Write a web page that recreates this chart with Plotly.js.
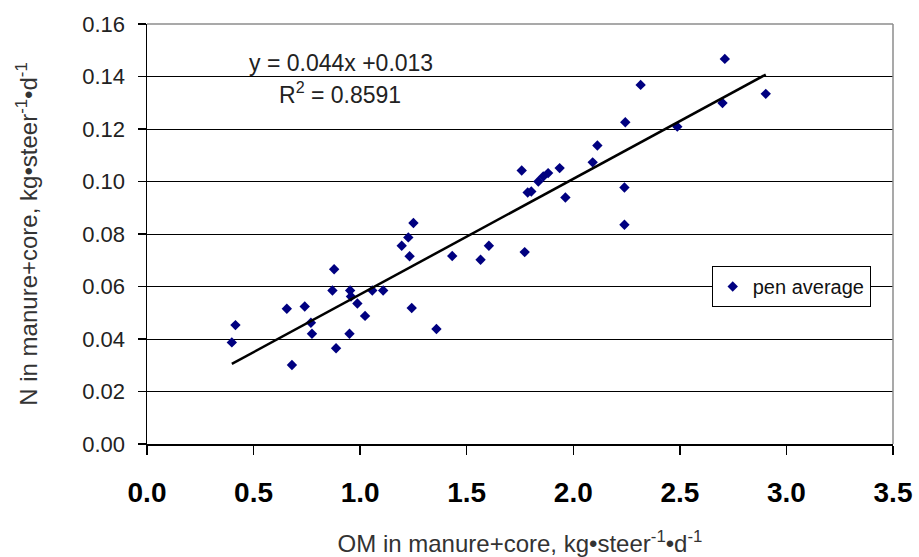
<!DOCTYPE html>
<html><head><meta charset="utf-8">
<script src="https://cdn.plot.ly/plotly-3.0.1.min.js"></script>
<style>html,body{margin:0;padding:0;background:#fff}#chart{width:919px;height:557px}</style>
</head><body><div id="chart"></div>
<script>
// OM in manure+core (kg/steer/d) for each pen average
const omValues = [0.398, 0.415, 0.656, 0.680, 0.740, 0.769, 0.774, 0.870, 0.878, 0.887,
  0.950, 0.953, 0.957, 0.987, 1.023, 1.057, 1.108, 1.195, 1.226, 1.232,
  1.250, 1.242, 1.358, 1.432, 1.565, 1.604, 1.772, 1.758, 1.786, 1.803,
  1.836, 1.859, 1.882, 1.936, 1.963, 2.091, 2.113, 2.244, 2.240, 2.240,
  2.316, 2.488, 2.711, 2.700, 2.903];
// N in manure+core (kg/steer/d)
const nValues = [0.0387, 0.0453, 0.0515, 0.0301, 0.0524, 0.0462, 0.0420, 0.0585, 0.0666, 0.0365,
  0.0420, 0.0585, 0.0562, 0.0535, 0.0488, 0.0585, 0.0585, 0.0755, 0.0787, 0.0715,
  0.0842, 0.0518, 0.0438, 0.0716, 0.0702, 0.0755, 0.0731, 0.1042, 0.0958, 0.0962,
  0.1000, 0.1019, 0.1032, 0.1051, 0.0939, 0.1073, 0.1137, 0.1226, 0.0977, 0.0835,
  0.1368, 0.1209, 0.1467, 0.1299, 0.1334];

const trendSlope = 0.044;
const trendIntercept = 0.013;
const rSquared = '0.8591';
const seriesName = 'pen average';

const xTickValues = [0, 0.5, 1.0, 1.5, 2.0, 2.5, 3.0, 3.5];
const xTickLabels = ['0.0', '0.5', '1.0', '1.5', '2.0', '2.5', '3.0', '3.5'];
const yTickValues = [0, 0.02, 0.04, 0.06, 0.08, 0.10, 0.12, 0.14, 0.16];
const yTickLabels = ['0.00', '0.02', '0.04', '0.06', '0.08', '0.10', '0.12', '0.14', '0.16'];

const xMin = Math.min(...omValues), xMax = Math.max(...omValues);
const trendX = [xMin, xMax];
const trendY = trendX.map(v => trendSlope * v + trendIntercept);

const FONT = 'Arial, "Liberation Sans", sans-serif';

const traces = [
  {
    x: omValues, y: nValues, type: 'scatter', mode: 'markers', name: seriesName,
    marker: {symbol: 'diamond', size: 8, color: '#000080'}
  },
  {
    x: trendX, y: trendY, type: 'scatter', mode: 'lines', showlegend: false,
    line: {color: '#000000', width: 2.5}, hoverinfo: 'skip'
  }
];

const layout = {
  width: 919, height: 557,
  margin: {l: 147, r: 26, t: 24, b: 113},
  paper_bgcolor: '#ffffff', plot_bgcolor: '#ffffff',
  font: {family: FONT, color: '#222'},
  showlegend: true,
  legend: {
    x: 0.757, y: 0.375, xanchor: 'left', yanchor: 'middle',
    bgcolor: '#ffffff', bordercolor: '#000000', borderwidth: 1,
    font: {family: FONT, size: 20, color: '#111'}
  },
  xaxis: {
    range: [0, 3.5], tickvals: xTickValues, ticktext: xTickLabels,
    showgrid: false, zeroline: false,
    showline: true, linecolor: '#000', linewidth: 1.5,
    ticks: 'outside', ticklen: 9, tickcolor: '#000', tickwidth: 1.5,
    ticklabelstandoff: 14,
    tickfont: {family: FONT, size: 28, color: '#000', weight: 'bold'},
    title: {text: 'OM in manure+core, kg•steer<sup>-1</sup>•d<sup>-1</sup>',
            standoff: 29,
            font: {family: FONT, size: 24, color: '#333'}}
  },
  yaxis: {
    range: [0, 0.16], tickvals: yTickValues, ticktext: yTickLabels,
    showgrid: true, gridcolor: '#000', gridwidth: 1, zeroline: false,
    showline: true, linecolor: '#000', linewidth: 1.5,
    ticks: 'outside', ticklen: 8, tickcolor: '#000', tickwidth: 1.5,
    ticklabelstandoff: 8,
    tickfont: {family: FONT, size: 22, color: '#222'},
    title: {text: 'N in manure+core, kg•steer<sup>-1</sup>•d<sup>-1</sup>',
            standoff: 38,
            font: {family: FONT, size: 24, color: '#333'}}
  },
  shapes: [
    {type: 'line', xref: 'paper', yref: 'paper', x0: 0, x1: 1, y0: 1, y1: 1,
     line: {color: '#8c8c8c', width: 1.5}, layer: 'above'},
    {type: 'line', xref: 'paper', yref: 'paper', x0: 1, x1: 1, y0: 0, y1: 1,
     line: {color: '#8c8c8c', width: 1.5}, layer: 'above'}
  ],
  annotations: [
    {x: 0.911, y: 0.1452, xref: 'x', yref: 'y', showarrow: false,
     text: 'y = ' + trendSlope.toFixed(3) + 'x +' + trendIntercept.toFixed(3),
     font: {family: FONT, size: 23, color: '#222'}},
    {x: 0.906, y: 0.1338, xref: 'x', yref: 'y', showarrow: false,
     text: 'R<sup>2</sup> = ' + rSquared,
     font: {family: FONT, size: 23, color: '#222'}}
  ]
};

Plotly.newPlot('chart', traces, layout, {staticPlot: true, displayModeBar: false});
</script>
</body></html>
